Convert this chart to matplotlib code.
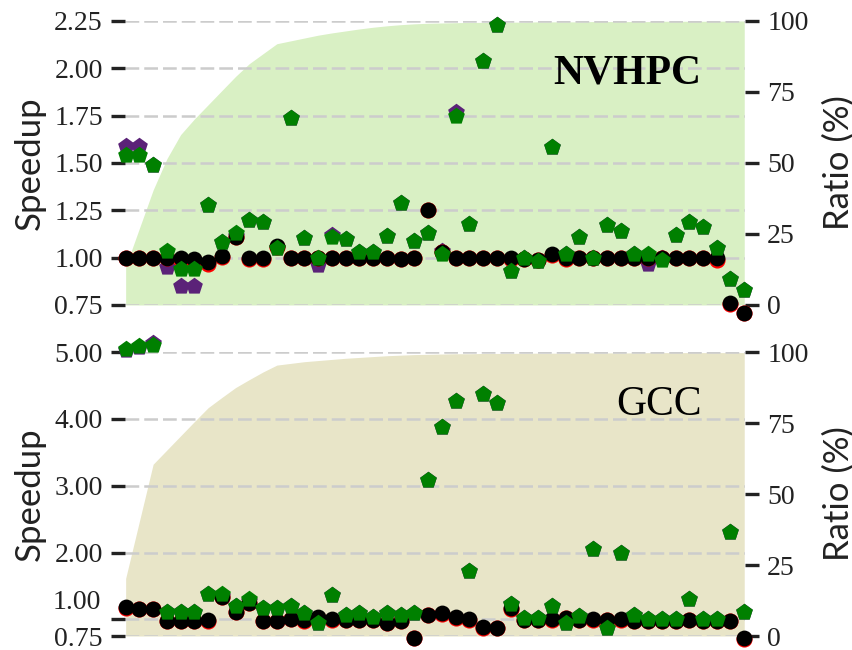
import numpy as np
import matplotlib
matplotlib.use("Agg")
import matplotlib.pyplot as plt

plt.rcParams['font.family'] = ['Liberation Serif', 'DejaVu Serif']

# x positions: one per benchmark
n = 46
idx = np.arange(n)

# NVHPC panel
green_nv = [1.54, 1.54, 1.49, 1.035, 0.94, 0.94, 1.28, 1.085, 1.13, 1.20, 1.19, 1.05,
            1.74, 1.105, 1.0, 1.11, 1.10, 1.03, 1.03, 1.115, 1.29, 1.09, 1.13, 1.02,
            1.75, 1.18, 2.04, 2.23, 0.93, 1.0, 0.98, 1.585, 1.02, 1.11, 1.0, 1.17,
            1.14, 1.02, 1.02, 0.99, 1.12, 1.19, 1.16, 1.05, 0.885, 0.83]
purple_nv = [1.59, 1.59, 1.49, 0.95, 0.85, 0.85, 1.28, 1.085, 1.115, 1.20, 1.19, 1.05,
             1.74, 1.105, 0.96, 1.12, 1.10, 1.03, 1.03, 1.115, 1.29, 1.09, 1.13, 1.035,
             1.77, 1.18, 2.04, 2.23, 0.93, 1.0, 0.98, 1.585, 1.02, 1.11, 1.0, 1.17,
             1.14, 1.02, 0.965, 1.0, 1.12, 1.19, 1.16, 1.05, 0.885, 0.83]
black_nv = [1.0, 1.0, 1.0, 1.0, 1.0, 0.995, 0.975, 1.01, 1.11, 1.0, 1.0, 1.06,
            1.0, 1.0, 1.0, 1.0, 1.0, 1.0, 1.0, 1.0, 0.995, 1.0, 1.25, 1.03,
            1.0, 1.0, 1.0, 1.0, 1.0, 0.995, 0.99, 1.02, 1.0, 1.0, 1.0, 1.0,
            1.0, 1.0, 1.0, 1.0, 1.0, 1.0, 1.0, 1.0, 0.76, 0.71]
red_nv = [1.0, 1.0, 1.0, 1.0, 0.99, 0.99, 0.965, 1.005, 1.11, 0.995, 0.995, 1.055,
          1.0, 1.0, 1.0, 1.0, 1.0, 1.0, 1.0, 1.0, 0.995, 1.0, 1.25, 1.03,
          1.0, 1.0, 1.0, 1.0, 0.995, 0.995, 0.99, 1.015, 0.995, 1.0, 1.0, 1.0,
          1.0, 1.0, 1.0, 1.0, 1.0, 1.0, 1.0, 0.99, 0.755, 0.705]
ratio_nv = [13.5, 27, 40.5, 51.5, 60, 65.5, 70.5, 75.5, 80.5, 85, 88.5, 92,
            93, 94, 95, 95.8, 96.5, 97.2, 97.8, 98.3, 98.7, 99, 99.2, 99.3,
            99.4, 99.5, 99.5, 99.6, 99.6, 99.6, 99.7, 99.7, 99.7, 99.7, 99.8, 99.8,
            99.8, 99.8, 99.8, 99.9, 99.9, 99.9, 99.9, 99.9, 100, 100]

# GCC panel
green_gcc = [5.04, 5.09, 5.10, 1.115, 1.115, 1.115, 1.38, 1.38, 1.2, 1.31, 1.165, 1.165,
             1.2, 1.1, 0.94, 1.37, 1.065, 1.1, 1.03, 1.09, 1.065, 1.1, 3.08, 3.88,
             4.27, 1.73, 4.37, 4.24, 1.23, 1.015, 1.015, 1.2, 0.94, 1.05, 2.05, 0.865,
             2.0, 1.065, 1.0, 1.0, 1.0, 1.31, 1.0, 1.0, 2.31, 1.115]
purple_gcc = [5.03, 5.08, 5.13, 1.115, 1.115, 1.115, 1.38, 1.35, 1.2, 1.27, 1.165, 1.165,
              1.2, 1.1, 0.94, 1.37, 1.065, 1.1, 1.03, 1.09, 1.065, 1.1, 3.08, 3.88,
              4.27, 1.73, 4.37, 4.24, 1.23, 1.015, 1.015, 1.2, 0.94, 1.05, 2.05, 0.865,
              2.0, 1.065, 1.0, 1.0, 1.0, 1.31, 1.0, 1.0, 2.31, 1.115]
black_gcc = [1.18, 1.16, 1.16, 0.975, 0.975, 0.975, 0.985, 1.33, 1.11, 1.25, 0.975, 0.975,
             1.01, 0.985, 1.03, 1.0, 0.99, 0.99, 0.99, 0.95, 0.975, 0.72, 1.065, 1.09,
             1.03, 1.0, 0.88, 0.875, 1.165, 0.99, 0.99, 1.0, 1.02, 0.99, 1.0, 0.99,
             1.0, 0.98, 0.975, 0.98, 0.975, 0.99, 0.975, 0.975, 0.975, 0.715]
red_gcc = [1.175, 1.155, 1.155, 0.97, 0.97, 0.97, 0.98, 1.33, 1.105, 1.25, 0.97, 0.97,
           1.005, 0.98, 1.025, 0.995, 0.985, 0.985, 0.985, 0.945, 0.97, 0.72, 1.06, 1.085,
           1.025, 0.99, 0.875, 0.87, 1.16, 0.985, 0.985, 0.995, 1.015, 0.985, 0.995, 0.985,
           0.995, 0.975, 0.97, 0.975, 0.97, 0.985, 0.97, 0.97, 0.97, 0.71]
ratio_gcc = [20.3, 40.4, 60.5, 65.5, 70.5, 75.5, 80.4, 84, 87.5, 90.3, 93, 95.4,
             96, 96.6, 97, 97.4, 97.8, 98.1, 98.4, 98.7, 98.9, 99.1, 99.2, 99.3,
             99.4, 99.4, 99.5, 99.5, 99.5, 99.6, 99.6, 99.6, 99.6, 99.7, 99.7, 99.7,
             99.7, 99.7, 99.8, 99.8, 99.8, 99.8, 99.8, 99.8, 99.8, 99.8]

panels = [
    ("NVHPC", "bold", green_nv, purple_nv, black_nv, red_nv, ratio_nv, "#d9f0c4",
     [0.75, 1.00, 1.25, 1.50, 1.75, 2.00, 2.25], (0.75, 2.25)),
    ("GCC", "normal", green_gcc, purple_gcc, black_gcc, red_gcc, ratio_gcc, "#e8e5c8",
     [0.75, 1.00, 2.00, 3.00, 4.00, 5.00], (0.75, 5.0)),
]

fig = plt.figure(figsize=(8.53, 6.5), dpi=100)
axes_rects = [[0.1465, 0.5308, 0.7268, 0.4369], [0.1465, 0.0215, 0.7268, 0.4369]]
tick_color = "#222222"

for rect, (name, weight, gr, pu, bk, rd, ratio, fillc, yt, ylim) in zip(axes_rects, panels):
    ax = fig.add_axes(rect)
    ax2 = ax.twinx()

    ax2.fill_between(idx, 0, ratio, color=fillc, linewidth=0)
    ax2.set_ylim(0, 100)
    ax2.set_yticks([0, 25, 50, 75, 100])
    ax2.set_ylabel("Ratio (%)", family="Lato", fontsize=25, color=tick_color, labelpad=10)

    ax.set_zorder(ax2.get_zorder() + 1)
    ax.patch.set_visible(False)

    kw = dict(linewidths=0, clip_on=False)
    ax.scatter(idx, pu, marker="p", s=160, color="#5b2278", zorder=3, **kw)
    ax.scatter(idx, rd, marker="o", s=135, color="red", zorder=4, **kw)
    ax.scatter(idx, bk, marker="o", s=130, color="black", zorder=5, **kw)
    ax.scatter(idx, gr, marker="p", s=160, color="#008000", zorder=6, **kw)

    ax.set_xlim(-0.05, n - 1 + 0.05)
    ax2.set_xlim(-0.05, n - 1 + 0.05)
    ax.set_ylim(*ylim)
    ax.set_yticks(yt)
    labels = ["%.2f" % v for v in yt]
    ax.set_ylabel("Speedup", family="Lato", fontsize=25, color=tick_color, labelpad=6)
    ax.grid(axis="y", color="#cccccc", linewidth=1.8, linestyle=(0, (5.5, 2.0)), zorder=0)
    ax.set_axisbelow(True)

    if name == "GCC":
        labels[1] = ""
        ax.annotate("1.00", xy=(0, 1.0), xycoords=("axes fraction", "data"),
                    xytext=(-17, 12), textcoords="offset points",
                    ha="right", va="center", fontsize=20, color=tick_color)
    ax.set_yticklabels(labels)

    for a in (ax, ax2):
        a.set_xticks([])
        for s in a.spines.values():
            s.set_visible(False)
        a.tick_params(axis="y", length=10, width=2.4, color=tick_color, labelsize=20,
                      labelcolor=tick_color, pad=6)

    ax.text(0.93, 0.78, name, transform=ax.transAxes, ha="right", va="baseline",
            fontsize=30, fontweight=weight, color="black", zorder=10)

fig.savefig("out.png", dpi=100)
